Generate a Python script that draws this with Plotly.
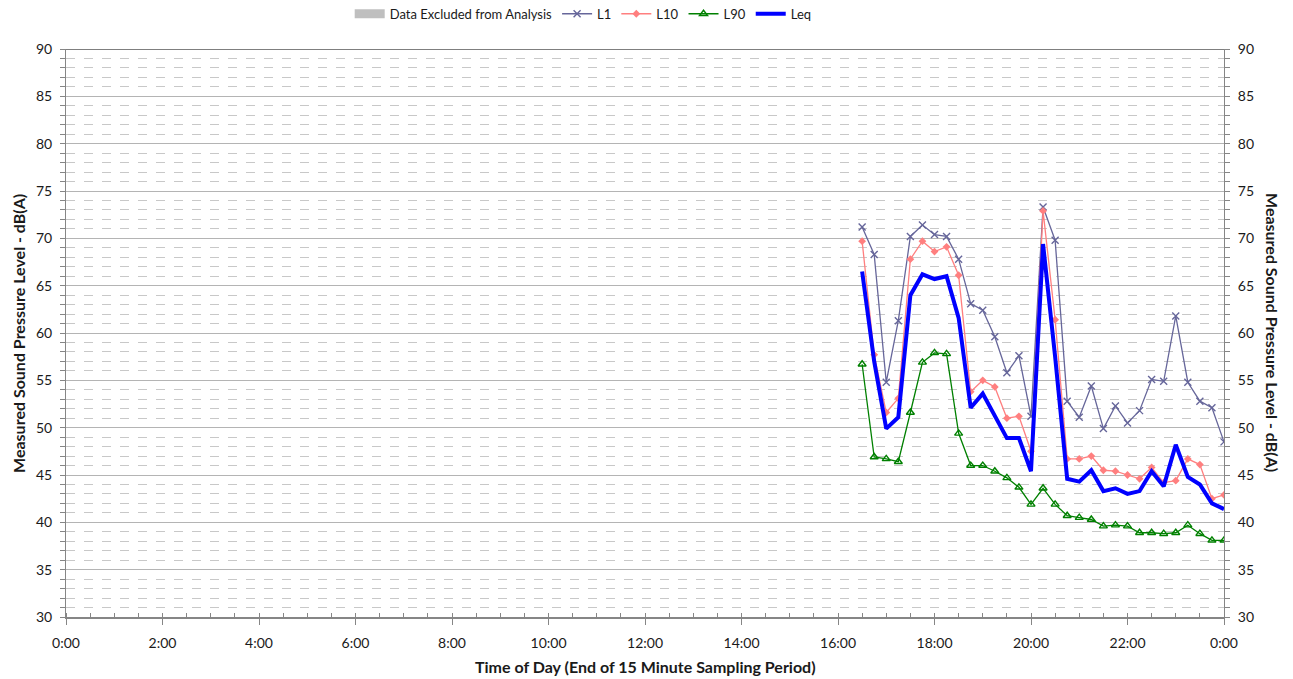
import plotly.graph_objects as go

# 15-minute sampling periods (end of period), evening of the survey
times = ["16:30", "16:45", "17:00", "17:15", "17:30", "17:45", "18:00", "18:15",
         "18:30", "18:45", "19:00", "19:15", "19:30", "19:45", "20:00", "20:15",
         "20:30", "20:45", "21:00", "21:15", "21:30", "21:45", "22:00", "22:15",
         "22:30", "22:45", "23:00", "23:15", "23:30", "23:45", "0:00"]

L1 = [71.2, 68.3, 54.8, 61.3, 70.2, 71.4, 70.4, 70.2, 67.8, 63.1, 62.4, 59.6,
      55.8, 57.6, 51.2, 73.3, 69.8, 52.8, 51.1, 54.4, 49.9, 52.3, 50.5, 51.8,
      55.1, 54.9, 61.8, 54.8, 52.8, 52.1, 48.5]
L10 = [69.7, 57.7, 51.6, 53.1, 67.8, 69.7, 68.6, 69.1, 66.1, 53.8, 55.0, 54.3,
       51.0, 51.2, 47.5, 72.9, 61.4, 46.7, 46.7, 47.0, 45.5, 45.4, 45.0, 44.6,
       45.8, 44.2, 44.4, 46.7, 46.1, 42.5, 42.9]
L90 = [56.7, 46.9, 46.7, 46.4, 51.6, 56.9, 57.9, 57.8, 49.4, 46.0, 46.0, 45.4,
       44.7, 43.7, 41.9, 43.6, 41.9, 40.7, 40.5, 40.3, 39.6, 39.7, 39.6, 38.9,
       38.9, 38.8, 38.9, 39.7, 38.8, 38.1, 38.1]
Leq = [66.5, 57.0, 49.9, 51.1, 64.0, 66.2, 65.7, 66.0, 61.6, 52.1, 53.6, 51.2,
       48.9, 48.9, 45.4, 69.4, 57.5, 44.6, 44.3, 45.5, 43.3, 43.6, 43.0, 43.3,
       45.4, 43.8, 48.2, 44.8, 44.0, 42.0, 41.4]

# Periods excluded from the analysis (none in this record)
excluded_x = [None]
excluded_y = [None]

hour_ticks = list(range(0, 25, 2))
hour_labels = [f"{h % 24}:00" for h in hour_ticks]


def to_hours(t):
    h, m = (int(v) for v in t.split(":"))
    val = h + m / 60.0
    return 24.0 if val == 0 else val


x = [to_hours(t) for t in times]

FONT = "Lato"
TXT = "#1a1a1a"
AXIS = "#868686"

fig = go.Figure()

fig.add_trace(go.Scatter(
    x=excluded_x, y=excluded_y, name="Data Excluded from Analysis",
    mode="lines", line=dict(color="#BFBFBF", width=9)))

fig.add_trace(go.Scatter(
    x=x, y=L1, name="L1", mode="lines+markers",
    line=dict(color="#66669A", width=1.3),
    marker=dict(symbol="x-thin", size=7, color="#66669A",
                line=dict(color="#66669A", width=1.4))))

fig.add_trace(go.Scatter(
    x=x, y=L10, name="L10", mode="lines+markers",
    line=dict(color="#FF7F7F", width=1.3),
    marker=dict(symbol="diamond", size=6, color="#FF7F7F")))

fig.add_trace(go.Scatter(
    x=x, y=L90, name="L90", mode="lines+markers",
    line=dict(color="#008000", width=1.3),
    marker=dict(symbol="triangle-up-open", size=7, color="#008000",
                line=dict(color="#008000", width=1.4))))

fig.add_trace(go.Scatter(
    x=x, y=Leq, name="Leq", mode="lines",
    line=dict(color="#0000FF", width=4)))

# Invisible trace so the right-hand axis is drawn
fig.add_trace(go.Scatter(x=[None], y=[None], yaxis="y2", showlegend=False,
                         hoverinfo="skip"))

yaxis_common = dict(
    range=[30, 90], dtick=5, tick0=30,
    showline=True, linecolor=AXIS, linewidth=1,
    ticks="outside", ticklen=5, tickcolor=AXIS,
    tickfont=dict(family=FONT, size=14, color=TXT),
    ticklabelstandoff=5,
    zeroline=False,
)

fig.update_layout(
    width=1293, height=679,
    margin=dict(l=66, r=69, t=49, b=62, autoexpand=False),
    paper_bgcolor="white", plot_bgcolor="white",
    font=dict(family=FONT, color=TXT),
    showlegend=True,
    legend=dict(orientation="h", x=0.245, xanchor="left",
                y=1.062, yanchor="middle",
                font=dict(family=FONT, size=13, color=TXT),
                itemwidth=30, tracegroupgap=0),
    xaxis=dict(
        range=[0, 24], tickvals=hour_ticks, ticktext=hour_labels,
        showgrid=False, zeroline=False,
        showline=True, linecolor=AXIS, linewidth=1.5,
        ticks="outside", ticklen=6, tickcolor=AXIS,
        minor=dict(dtick=0.5, tick0=0, ticks="inside", ticklen=4,
                   tickcolor=AXIS, showgrid=False),
        tickfont=dict(family=FONT, size=14, color=TXT),
        ticklabelstandoff=6,
    ),
    yaxis=dict(
        **yaxis_common,
        showgrid=True, gridcolor="#B4B4B4", gridwidth=1,
        minor=dict(dtick=1, tick0=30, ticks="outside", ticklen=5,
                   tickcolor=AXIS, showgrid=True, gridcolor="#C8C8C8",
                   griddash="dash", gridwidth=1),
    ),
    yaxis2=dict(
        **yaxis_common,
        overlaying="y", side="right", showgrid=False,
        minor=dict(dtick=1, tick0=30, ticks="outside", ticklen=5,
                   tickcolor=AXIS, showgrid=False),
    ),
)

# Dark border line along the top of the plot area
fig.add_shape(type="line", xref="paper", yref="y", x0=0, x1=1, y0=90, y1=90,
              line=dict(color="#000000", width=1.2))

title_font = dict(family=FONT, size=16, color=TXT, weight="bold")
fig.add_annotation(text="<b>Measured Sound Pressure Level - dB(A)</b>",
                   xref="paper", yref="paper", x=-0.0415, y=0.5,
                   textangle=-90, showarrow=False, font=title_font,
                   xanchor="center", yanchor="middle")
fig.add_annotation(text="<b>Measured Sound Pressure Level - dB(A)</b>",
                   xref="paper", yref="paper", x=1.0423, y=0.5,
                   textangle=90, showarrow=False, font=title_font,
                   xanchor="center", yanchor="middle")
fig.add_annotation(text="<b>Time of Day (End of 15 Minute Sampling Period)</b>",
                   xref="paper", yref="paper", x=0.5, y=-0.0863,
                   showarrow=False, font=title_font,
                   xanchor="center", yanchor="middle")

fig.write_html("out.html")
